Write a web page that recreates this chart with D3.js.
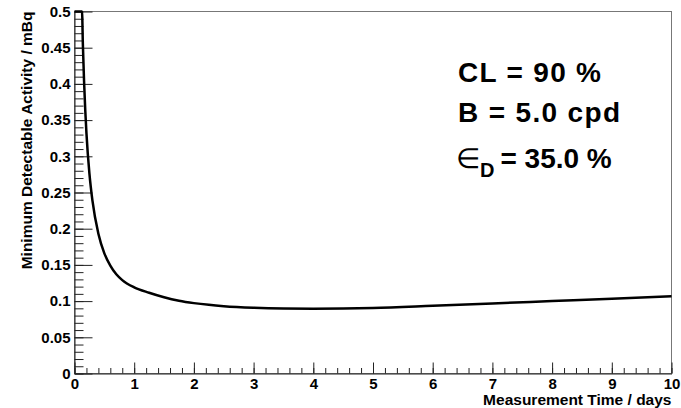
<!doctype html>
<html>
<head>
	<meta charset="UTF-8">
	<title>Minimum Detectable Activity</title>
	<style>
		body { margin: 0; background: #ffffff; }
		#chart { font-size: 0; }
		text { font-family: "Liberation Sans", Arial, sans-serif; font-weight: bold; }
	</style>
</head>
<body>
<div id="chart"></div>
<script src="https://cdn.jsdelivr.net/npm/d3@7/dist/d3.min.js"></script>
<script>
	var times = [0, 0.126, 0.14, 0.16, 0.18, 0.2, 0.25, 0.3, 0.4, 0.5, 0.6, 0.7, 0.8, 1.0, 1.25, 1.5, 1.75, 2.0, 2.25, 2.5, 3.0, 3.5, 4.0, 4.5, 5.0, 6.0, 7.0, 8.0, 9.0, 10.0];
	var mda = [0.5, 0.5, 0.455, 0.404, 0.364, 0.332, 0.276, 0.239, 0.193, 0.166, 0.149, 0.137, 0.129, 0.119, 0.1115, 0.1053, 0.1005, 0.0972, 0.0948, 0.093, 0.0908, 0.0897, 0.0894, 0.0897, 0.0906, 0.0936, 0.0968, 0.1001, 0.1034, 0.1068];
	var xTicks = [0, 1, 2, 3, 4, 5, 6, 7, 8, 9, 10];
	var yTicks = [0, 0.05, 0.1, 0.15, 0.2, 0.25, 0.3, 0.35, 0.4, 0.45, 0.5];
	var labels = ["CL = 90 %", "B = 5.0 cpd"];

	var w = 681, h = 408;
	var padL = 74.5, padR = 671.5, padT = 11.5, padB = 373.5;

	var x = d3.scaleLinear().domain([0, 10]).range([padL, padR]);
	var y = d3.scaleLinear().domain([0, 0.5]).range([padB, padT]);

	var svg = d3.select("#chart").append("svg")
			.attr("width", w)
			.attr("height", h);

	// frame
	svg.append("rect")
			.attr("x", padL).attr("y", padT)
			.attr("width", padR - padL).attr("height", padB - padT)
			.attr("fill", "none")
			.attr("stroke", "#777")
			.attr("stroke-width", 1);

	// minor ticks
	var xMinor = d3.range(51).map(function (i) { return i * 0.2; });
	var yMinor = d3.range(51).map(function (i) { return i * 0.01; });

	svg.append("g")
			.attr("transform", "translate(0," + padB + ")")
			.call(d3.axisBottom(x).tickValues(xMinor).tickSize(-5.5).tickSizeOuter(0).tickFormat(""))
			.call(function (g) { g.select(".domain").remove(); });
	svg.append("g")
			.attr("transform", "translate(" + padL + ",0)")
			.call(d3.axisLeft(y).tickValues(yMinor).tickSize(-9).tickSizeOuter(0).tickFormat(""))
			.call(function (g) { g.select(".domain").remove(); });

	// major ticks + labels
	var xAxis = svg.append("g")
			.attr("transform", "translate(0," + padB + ")")
			.call(d3.axisBottom(x).tickValues(xTicks).tickSize(-11).tickSizeOuter(0).tickPadding(5)
					.tickFormat(function (d) { return String(d); }));
	var yAxis = svg.append("g")
			.attr("transform", "translate(" + padL + ",0)")
			.call(d3.axisLeft(y).tickValues(yTicks).tickSize(-18).tickSizeOuter(0).tickPadding(4)
					.tickFormat(function (d) { return String(+d.toFixed(2)); }));

	svg.selectAll(".tick line").attr("stroke", "#222");
	xAxis.select(".domain").attr("stroke", "#222");
	yAxis.select(".domain").attr("stroke", "#222");
	svg.selectAll(".tick text")
			.attr("font-family", "'Liberation Sans', Arial, sans-serif")
			.attr("font-weight", "bold")
			.attr("font-size", 15)
			.attr("fill", "#000");

	// axis titles
	svg.append("text")
			.attr("x", padR)
			.attr("y", 405)
			.attr("text-anchor", "end")
			.attr("font-size", 15.5)
			.text("Measurement Time / days");
	svg.append("text")
			.attr("transform", "translate(31.5," + padT + ") rotate(-90)")
			.attr("text-anchor", "end")
			.attr("font-size", 15.5)
			.text("Minimum Detectable Activity / mBq");

	// curve
	var line = d3.line()
			.x(function (d, i) { return x(times[i]); })
			.y(function (d) { return y(Math.min(d, 0.5)); })
			.curve(d3.curveMonotoneX);
	svg.append("path")
			.datum(mda)
			.attr("d", line)
			.attr("fill", "none")
			.attr("stroke", "#000")
			.attr("stroke-width", 2.5);

	// annotation
	svg.append("text").attr("x", 458).attr("y", 82).attr("font-size", 28)
			.attr("textLength", 143).attr("lengthAdjust", "spacing").text(labels[0]);
	svg.append("text").attr("x", 458).attr("y", 122).attr("font-size", 28)
			.attr("textLength", 162).attr("lengthAdjust", "spacing").text(labels[1]);
	var t3 = svg.append("text").attr("x", 456).attr("y", 168).attr("font-size", 28);
	t3.append("tspan").attr("font-weight", "normal").text("\u2208");
	t3.append("tspan").attr("font-size", 20).attr("dy", 9).text("D");
	t3.append("tspan").attr("dy", -9).attr("dx", 6).text("= 35.0 %");
</script>
</body>
</html>
